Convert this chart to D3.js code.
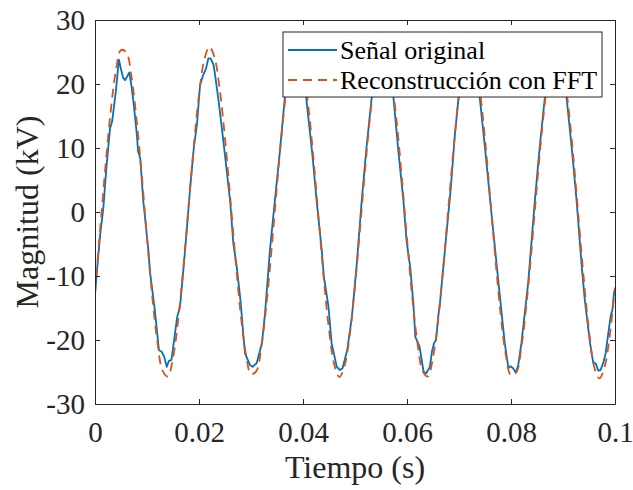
<!DOCTYPE html>
<html>
<head>
<meta charset="utf-8">
<script src="https://cdn.jsdelivr.net/npm/d3@7/dist/d3.min.js"></script>
<style>
  body { margin: 0; background: #fff; }
  svg { display: block; }
  svg text { font-family: "Liberation Serif", "Times New Roman", Times, serif; }
  .axis text { fill: #262626; font-size: 29px; font-family: "Liberation Serif", "Times New Roman", Times, serif; }
  .axis path, .axis line { stroke: #262626; stroke-width: 1; }
</style>
</head>
<body>
<svg id="chart"></svg>
<script>
//======
// Data
//======

var xTicks = [0, 0.02, 0.04, 0.06, 0.08, 0.1];
var yTicks = [-30, -20, -10, 0, 10, 20, 30];
var seriesNames = ["Señal original", "Reconstrucción con FFT"];

// original signal, [time (s), kV]
var signalPoints = [
  [0, -13], [0.0005, -8], [0.0010, -3.5], [0.0016, 0.6], [0.0022, 7], [0.0029, 13.1],
  [0.0033, 14.2], [0.0040, 18.8], [0.0046, 23.8], [0.0050, 22.3], [0.0054, 21.0],
  [0.0058, 20.6], [0.0062, 21.2], [0.0066, 21.8], [0.0070, 19.8], [0.0074, 17.2],
  [0.0080, 12.5], [0.0083, 9.4], [0.0087, 8.4], [0.0093, 1.6], [0.0096, -0.7],
  [0.01025, -5.9], [0.0106, -9.5], [0.0115, -15.3], [0.0123, -21.6], [0.0128, -21.8],
  [0.0133, -22.6], [0.0138, -24.2], [0.0142, -23.3], [0.0147, -23.1], [0.0154, -18.9],
  [0.0158, -16.4], [0.01635, -14.8], [0.0170, -9], [0.0176, -3.3], [0.0183, 3.8],
  [0.0190, 10], [0.0196, 13.6], [0.0202, 19.8], [0.0208, 21.4], [0.02135, 22.4],
  [0.0218, 24], [0.02225, 24], [0.0228, 23], [0.0231, 21.4], [0.0237, 17.8],
  [0.0247, 11], [0.0260, 1.6], [0.0266, -4.9], [0.02725, -8.5], [0.0280, -14],
  [0.0285, -18.9], [0.02885, -22.1], [0.0298, -23.9], [0.0303, -24.2], [0.0311, -23.6],
  [0.0321, -20.5], [0.0327, -15.8], [0.03365, -5.9], [0.0346, 1.9], [0.0355, 9],
  [0.0365, 17.8], [0.0375, 22.5], [0.0385, 24], [0.0393, 24.5], [0.0400, 23],
  [0.0407, 17.2], [0.0418, 9], [0.0426, 1.9], [0.0436, -5.9], [0.0440, -10],
  [0.0449, -14.8], [0.0455, -20.5], [0.0465, -24.2], [0.0471, -24.7], [0.0476, -24.4],
  [0.0485, -21.6], [0.0494, -16.4], [0.0503, -8.5], [0.0513, 1.9], [0.0522, 10],
  [0.0532, 17.8], [0.0542, 22.5], [0.0552, 24.3], [0.0560, 24.2], [0.0567, 21.5],
  [0.0574, 17.8], [0.0584, 9], [0.0593, 1.9], [0.0599, -4.4], [0.0606, -8.5],
  [0.0612, -14], [0.0616, -19.5], [0.0624, -21], [0.0632, -25], [0.0637, -25.2],
  [0.0644, -24.2], [0.0648, -21.8], [0.0652, -20.5], [0.0656, -20], [0.0660, -16.4],
  [0.0663, -14.5], [0.0670, -8.5], [0.0676, -3.3], [0.0684, 3.5], [0.0692, 12],
  [0.0699, 17.8], [0.0710, 22.5], [0.0720, 24.5], [0.0730, 24], [0.0740, 17.8],
  [0.0750, 10], [0.0763, -0.7], [0.0776, -11.1], [0.0788, -20.5], [0.0795, -24.4],
  [0.0799, -24.1], [0.0804, -24.4], [0.0809, -25.1], [0.0814, -23.9], [0.0820, -20.5],
  [0.0833, -11.1], [0.0846, 1.9], [0.0855, 10], [0.0865, 17.8], [0.0875, 22.5],
  [0.0885, 24.3], [0.0893, 24], [0.0900, 21.5], [0.0907, 17.8], [0.0918, 9],
  [0.0926, 1.9], [0.0936, -8.5], [0.0942, -13.8], [0.0952, -20.5], [0.0958, -23.5],
  [0.0963, -23.7], [0.0968, -24.8], [0.0972, -24.7], [0.0977, -23.7], [0.0982, -22.1],
  [0.0987, -19], [0.0992, -16.1], [0.0995, -15.3], [0.0998, -12.7], [0.1000, -12]
];

// FFT reconstruction, one value per millisecond (0 .. 100 ms)
var reconKV = [
  -12.5, -2.6, 7.0, 15.6, 22.0, 25.3, 25.0, 21.2, 14.4, 5.6,
  -4.0, -13.1, -20.3, -24.8, -25.7, -22.8, -16.8, -8.6, 0.9, 10.3,
  18.3, 23.7, 25.8, 24.1, 19.1, 11.5, 2.3, -7.2, -15.8, -22.1,
  -25.3, -24.9, -21.0, -14.2, -5.4, 4.2, 13.1, 20.2, 24.5, 25.4,
  22.6, 16.7, 8.5, -1.0, -10.4, -18.4, -23.8, -25.8, -24.0, -19.1,
  -11.6, -2.3, 7.2, 15.7, 22.0, 25.2, 24.9, 21.0, 14.2, 5.4,
  -4.2, -13.2, -20.4, -24.8, -25.7, -22.7, -16.7, -8.5, 1.0, 10.3,
  18.2, 23.5, 25.5, 23.9, 19.0, 11.4, 2.2, -7.3, -15.9, -22.3,
  -25.5, -25.1, -21.1, -14.2, -5.4, 4.2, 13.1, 20.2, 24.5, 25.4,
  22.6, 16.7, 8.5, -1.0, -10.5, -18.6, -24.2, -26.0, -24.2, -19.2,
  -11.8
];

//=======
// Chart
//=======

function buildChart() {
  var width = 633,
    height = 490,
    plotLeft = 95,
    plotRight = 615,
    plotTop = 20,
    plotBottom = 404,
    blue = "#0072BD",
    orange = "#D95319",
    dash = "9,6";

  var svg = d3.select("#chart")
    .attr("width", width)
    .attr("height", height);

  var x = d3.scaleLinear().domain([0, 0.1]).range([plotLeft, plotRight]);
  var y = d3.scaleLinear().domain([-30, 30]).range([plotBottom, plotTop]);

  var fmt = function(d) { return String(+d.toFixed(4)); };

  svg.append("defs").append("clipPath").attr("id", "plotclip")
    .append("rect")
    .attr("x", plotLeft).attr("y", plotTop)
    .attr("width", plotRight - plotLeft).attr("height", plotBottom - plotTop);

  // lines
  var signalLine = d3.line()
    .x(function(d) { return x(d[0]); })
    .y(function(d) { return y(d[1]); });

  var reconLine = d3.line()
    .x(function(d, i) { return x(i / 1000); })
    .y(function(d) { return y(d); })
    .curve(d3.curveCatmullRom);

  var plot = svg.append("g").attr("clip-path", "url(#plotclip)");

  plot.append("path")
    .datum(signalPoints)
    .attr("d", signalLine)
    .attr("fill", "none")
    .attr("stroke", blue)
    .attr("stroke-width", 1.8)
    .attr("stroke-linejoin", "round");

  plot.append("path")
    .datum(reconKV)
    .attr("d", reconLine)
    .attr("fill", "none")
    .attr("stroke", orange)
    .attr("stroke-width", 1.8)
    .attr("stroke-dasharray", dash);

  // axes (ticks point inwards, box on)
  svg.append("g")
    .attr("class", "axis")
    .attr("transform", "translate(0," + plotBottom + ")")
    .call(d3.axisBottom(x).tickValues(xTicks).tickFormat(fmt).tickSizeInner(-5).tickSizeOuter(0).tickPadding(17));

  svg.append("g")
    .attr("class", "axis")
    .attr("transform", "translate(0," + plotTop + ")")
    .call(d3.axisTop(x).tickValues(xTicks).tickFormat("").tickSizeInner(-5).tickSizeOuter(0));

  svg.append("g")
    .attr("class", "axis")
    .attr("transform", "translate(" + plotLeft + ",0)")
    .call(d3.axisLeft(y).tickValues(yTicks).tickFormat(fmt).tickSizeInner(-5).tickSizeOuter(0).tickPadding(10));

  svg.append("g")
    .attr("class", "axis")
    .attr("transform", "translate(" + plotRight + ",0)")
    .call(d3.axisRight(y).tickValues(yTicks).tickFormat("").tickSizeInner(-5).tickSizeOuter(0));

  // axis titles
  svg.append("text")
    .attr("x", (plotLeft + plotRight) / 2)
    .attr("y", 478)
    .attr("text-anchor", "middle")
    .attr("font-size", 32)
    .attr("fill", "#262626")
    .text("Tiempo (s)");

  svg.append("text")
    .attr("transform", "translate(38," + (plotTop + plotBottom) / 2 + ") rotate(-90)")
    .attr("text-anchor", "middle")
    .attr("font-size", 32)
    .attr("fill", "#262626")
    .text("Magnitud (kV)");

  // legend
  var legend = svg.append("g");

  legend.append("rect")
    .attr("x", 283).attr("y", 32)
    .attr("width", 319).attr("height", 65)
    .attr("fill", "#fff")
    .attr("stroke", "#262626")
    .attr("stroke-width", 1);

  var rows = legend.selectAll("g.row")
    .data(seriesNames)
    .enter()
    .append("g")
    .attr("class", "row")
    .attr("transform", function(d, i) { return "translate(0," + (50 + i * 30) + ")"; });

  rows.append("line")
    .attr("x1", 288).attr("x2", 337)
    .attr("stroke", function(d, i) { return i ? orange : blue; })
    .attr("stroke-width", 1.8)
    .attr("stroke-dasharray", function(d, i) { return i ? dash : null; });

  rows.append("text")
    .attr("x", 340)
    .attr("y", 9)
    .attr("font-size", 26)
    .attr("fill", "#000")
    .text(function(d) { return d; });
}

buildChart();
</script>
</body>
</html>
